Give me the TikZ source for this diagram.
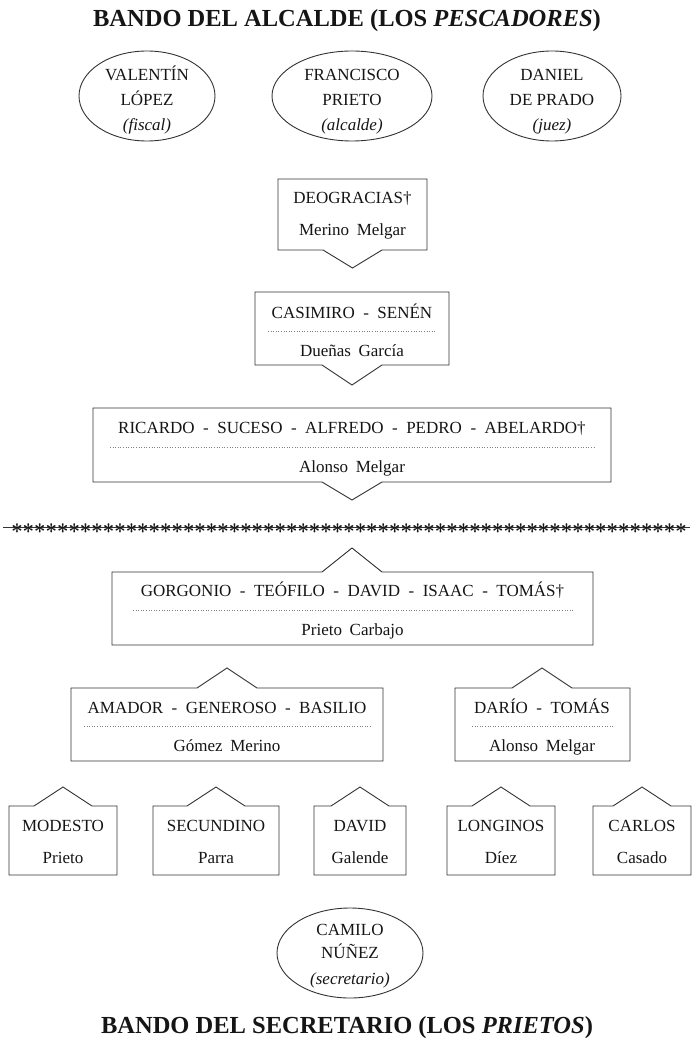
\documentclass[tikz,border=0pt]{standalone}
\usepackage{fontspec}
\setmainfont{Liberation Serif}
\definecolor{ink}{HTML}{151515}
\definecolor{edge}{HTML}{333333}
\newcommand\gap{\hspace{0.45em}}
\newcommand\sepr{\hspace{0.5em}-\hspace{0.5em}}
\begin{document}
\begin{tikzpicture}[x=1pt,y=-1pt,
  txt/.style={font=\fontsize{17}{20}\selectfont, text=ink, inner sep=0pt, anchor=base},
  ttl/.style={font=\fontsize{24.5}{27}\selectfont\bfseries, text=ink, inner sep=0pt, anchor=base},
  boxline/.style={draw=edge, line width=0.9pt, fill=white, line join=miter},
  elline/.style={draw=edge, line width=0.9pt},
  dots/.style={draw=gray, line width=0.6pt, dotted},
  star/.style={font=\fontsize{21}{21}\selectfont\boldmath, text=ink, inner sep=0pt}
]
\useasboundingbox (0,0) rectangle (693,1048);
\fill[white] (0,0) rectangle (693,1048);

% titles
\node[ttl] (t1) at (347,27) {BANDO DEL ALCALDE (LOS \textit{PESCADORES})};
\node[ttl] (t2) at (347,1033) {BANDO DEL SECRETARIO (LOS \textit{PRIETOS})};

% top ellipses
\draw[elline] (147,96) ellipse [x radius=68, y radius=45];
\coordinate (e1) at (147,96);
\draw[elline] (352,96) ellipse [x radius=80, y radius=45];
\coordinate (e2) at (352,96);
\draw[elline] (552,96) ellipse [x radius=69, y radius=45];
\coordinate (e3) at (552,96);
\node[txt] (e1a) at (147,81) {VALENTÍN};
\node[txt] (e1b) at (147,106) {LÓPEZ};
\node[txt] (e1c) at (147,131) {\textit{(fiscal)}};
\node[txt] (e2a) at (352,81) {FRANCISCO};
\node[txt] (e2b) at (352,106) {PRIETO};
\node[txt] (e2c) at (352,131) {\textit{(alcalde)}};
\node[txt] (e3a) at (552,81) {DANIEL};
\node[txt] (e3b) at (552,106) {DE PRADO};
\node[txt] (e3c) at (552,131) {\textit{(juez)}};

% down-pointing boxes
% DEOGRACIAS
\draw[boxline] (278,179) -- (427,179) -- (427,250) -- (382,250) -- (352.5,268) -- (323,250) -- (278,250) -- cycle;
\node[txt] (b1a) at (352.5,204) {DEOGRACIAS†};
\node[txt] (b1b) at (352.5,236) {Merino\gap Melgar};
% CASIMIRO
\draw[boxline] (255,292) -- (449,292) -- (449,365) -- (382,365) -- (352,385) -- (322,365) -- (255,365) -- cycle;
\node[txt] (b2a) at (352,318) {CASIMIRO\sepr SENÉN};
\draw[dots] (268,331) -- (436,331);
\node[txt] (b2b) at (352,356) {Dueñas\gap García};
% RICARDO
\draw[boxline] (93,408) -- (611,408) -- (611,482) -- (382,482) -- (352,500) -- (322,482) -- (93,482) -- cycle;
\node[txt] (b3a) at (352,433) {RICARDO\sepr SUCESO\sepr ALFREDO\sepr PEDRO\sepr ABELARDO†};
\draw[dots] (110,447) -- (594,447);
\node[txt] (b3b) at (352,472) {Alonso\gap Melgar};

% star divider
\draw[edge, line width=0.7pt] (3,527) -- (690,527);
\foreach \i in {0,...,58} {
  \node[star] (s\i) at ({17+\i*11.45},529) {$\ast$};
}

% up-pointing boxes
% GORGONIO
\draw[boxline] (112,572) -- (322,572) -- (352,548) -- (382,572) -- (593,572) -- (593,645) -- (112,645) -- cycle;
\node[txt] (b4a) at (352.5,596) {GORGONIO\sepr TEÓFILO\sepr DAVID\sepr ISAAC\sepr TOMÁS†};
\draw[dots] (133,610) -- (573,610);
\node[txt] (b4b) at (352.5,635) {Prieto\gap Carbajo};
% AMADOR
\draw[boxline] (71,688) -- (197,688) -- (227,668) -- (257,688) -- (383,688) -- (383,761) -- (71,761) -- cycle;
\node[txt] (b5a) at (227,713) {AMADOR\sepr GENEROSO\sepr BASILIO};
\draw[dots] (84,726) -- (371,726);
\node[txt] (b5b) at (227,751) {Gómez\gap Merino};
% DARIO
\draw[boxline] (455,688) -- (512,688) -- (542,668) -- (572,688) -- (630,688) -- (630,761) -- (455,761) -- cycle;
\node[txt] (b6a) at (542,713) {DARÍO\sepr TOMÁS};
\draw[dots] (472,726) -- (613,726);
\node[txt] (b6b) at (542,751) {Alonso\gap Melgar};

% small boxes
\foreach \n/\xa/\xb/\first/\last in {m1/9/117/MODESTO/Prieto, m2/153/279/SECUNDINO/Parra, m3/314/406/DAVID/Galende, m4/447/555/LONGINOS/Díez, m5/593/691/CARLOS/Casado} {
  \pgfmathsetmacro\cx{(\xa+\xb)/2}
  \draw[boxline] (\xa,806) -- ({\cx-29},806) -- (\cx,787) -- ({\cx+29},806) -- (\xb,806) -- (\xb,875) -- (\xa,875) -- cycle;
  \node[txt] (\n a) at (\cx,831) {\first};
  \node[txt] (\n b) at (\cx,863) {\last};
}

% bottom ellipse
\draw[elline] (350,953) ellipse [x radius=73, y radius=45];
\coordinate (e4) at (350,953);
\node[txt] (e4a) at (350,935) {CAMILO};
\node[txt] (e4b) at (350,958) {NÚÑEZ};
\node[txt] (e4c) at (350,984) {\textit{(secretario)}};
\end{tikzpicture}
\end{document}
